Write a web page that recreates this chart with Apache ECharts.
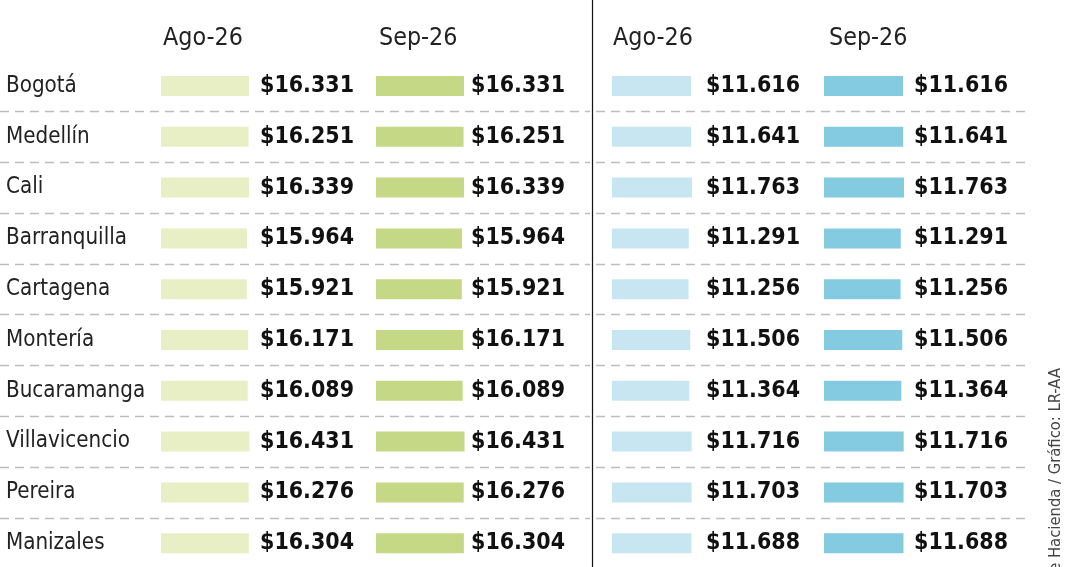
<!DOCTYPE html>
<html><head><meta charset="utf-8">
<script src="https://cdn.jsdelivr.net/npm/echarts@6/dist/echarts.min.js"></script>
<style>html,body{margin:0;padding:0;background:#fff}#c{width:1080px;height:567px}</style>
</head><body><div id="c"></div>
<script>
// ---- data ----
const cities = ['Bogotá','Medellín','Cali','Barranquilla','Cartagena','Montería','Bucaramanga','Villavicencio','Pereira','Manizales'];
const periods = ['Ago-26','Sep-26'];
const gasolinaAgo = [16331,16251,16339,15964,15921,16171,16089,16431,16276,16304];
const gasolinaSep = [16331,16251,16339,15964,15921,16171,16089,16431,16276,16304];
const acpmAgo = [11616,11641,11763,11291,11256,11506,11364,11716,11703,11688];
const acpmSep = [11616,11641,11763,11291,11256,11506,11364,11716,11703,11688];
const sourceText = 'Fuente: Ministerio de Hacienda / Gráfico: LR-AA';

// ---- font detection ----
const ctx = document.createElement('canvas').getContext('2d');
function w(font, s){ ctx.font = font; return ctx.measureText(s).width; }
function avail(f){
  const s = 'Barranquilla $16.331 Wwm';
  const a = w('50px monospace', s), b = w('50px serif', s);
  const c = w('50px "' + f + '", monospace', s), d = w('50px "' + f + '", serif', s);
  return Math.abs(c - d) < 0.01 && Math.abs(c - a) > 0.5 && Math.abs(d - b) > 0.5;
}
const cands = ['Liberation Sans Narrow','DejaVu Sans Condensed','Roboto Condensed','Open Sans Condensed','Noto Sans Condensed','Arial Narrow','Roboto','Liberation Sans'];
let FONT = 'sans-serif';
for (const f of cands) { if (avail(f)) { FONT = f; break; } }
function fit(weight, s, target, maxSize){
  const ww = w(weight + ' 100px "' + FONT + '"', s);
  return Math.min(maxSize, target / ww * 100);
}
const valSize = fit('bold', '$16.331', 94, 34);
const citySize = fit('normal', 'Barranquilla', 121, 32);
const headSize = fit('normal', 'Ago-26', 80, 32);
const srcSize = fit('normal', 'le Hacienda / Gráfico: LR-AA', 208, 18);

const fmt = v => '$' + String(v).replace(/\B(?=(\d{3})+(?!\d))/g, '.');

const TOP = 60.6, H = 508;
const gL = 22000, gW = 88 * 22000 / 16331;
const dL = 16000, dW = 79 * 16000 / 11616;

const grids = [
  {left: 0, width: 590, top: TOP, height: H},
  {left: 596, width: 429, top: TOP, height: H},
  {left: 161, width: gW, top: TOP, height: H},
  {left: 376, width: gW, top: TOP, height: H},
  {left: 612, width: dW, top: TOP, height: H},
  {left: 824, width: dW, top: TOP, height: H}
].map(g => Object.assign(g, {containLabel: false, outerBoundsMode: 'none'}));

const splitColors = ['rgba(0,0,0,0)'].concat(Array(10).fill('#bdbdbd'));
const xAxes = grids.map((g, i) => ({
  type: 'value', gridIndex: i, show: false, min: 0,
  max: i < 2 ? 1 : (i < 4 ? gL : dL)
}));
const yAxes = grids.map((g, i) => {
  const base = {type: 'category', gridIndex: i, data: cities, inverse: true};
  if (i === 0 || i === 1) {
    return Object.assign(base, {
      axisLine: {show: false}, axisTick: {show: false},
      axisLabel: {show: i === 0, inside: true, margin: 6, fontFamily: FONT, fontSize: citySize, color: '#222'},
      splitLine: {show: true, interval: 0, lineStyle: {color: splitColors, type: [9, 6], width: 1.3}}
    });
  }
  return Object.assign(base, {show: false});
});

function barSeries(name, data, idx, color, dx){
  return {
    type: 'bar', name, data, xAxisIndex: idx, yAxisIndex: idx, barWidth: 20,
    itemStyle: {color}, silent: true, animation: false,
    label: {show: true, position: [dx, '50%'], align: 'right', verticalAlign: 'middle',
      fontFamily: FONT, fontWeight: 'bold', fontSize: valSize, color: '#111', formatter: p => fmt(p.value)}
  };
}

const headStyle = {fontFamily: FONT, fontSize: headSize, fill: '#222', verticalAlign: 'middle', align: 'left'};
const option = {
  animation: false,
  grid: grids, xAxis: xAxes, yAxis: yAxes,
  series: [
    barSeries(periods[0], gasolinaAgo, 2, '#e8efc4', 193),
    barSeries(periods[1], gasolinaSep, 3, '#c4d886', 189),
    barSeries(periods[0], acpmAgo, 4, '#c8e6f1', 188),
    barSeries(periods[1], acpmSep, 5, '#84cbe2', 184)
  ],
  graphic: [
    {type: 'text', x: 163, y: 39, style: Object.assign({text: periods[0]}, headStyle)},
    {type: 'text', x: 379, y: 39, style: Object.assign({text: periods[1]}, headStyle)},
    {type: 'text', x: 613, y: 39, style: Object.assign({text: periods[0]}, headStyle)},
    {type: 'text', x: 829, y: 39, style: Object.assign({text: periods[1]}, headStyle)},
    {type: 'line', shape: {x1: 592.5, y1: 0, x2: 592.5, y2: 567}, style: {stroke: '#111', lineWidth: 1.2}},
    {type: 'text', x: 1056, y: 368, rotation: Math.PI / 2,
      style: {text: sourceText, fontFamily: FONT, fontSize: srcSize, fill: '#444', align: 'right', verticalAlign: 'middle'}}
  ]
};
const chart = echarts.init(document.getElementById('c'), null, {renderer: 'canvas'});
chart.setOption(option);
</script></body></html>
